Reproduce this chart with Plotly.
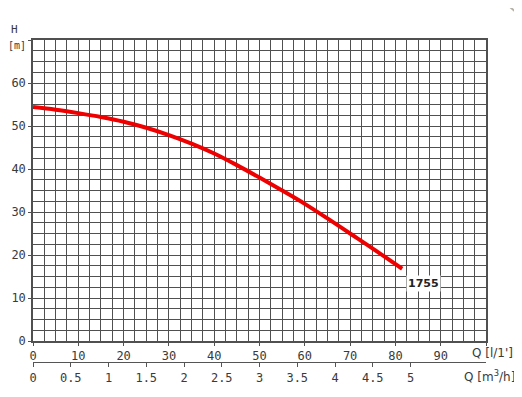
import plotly.graph_objects as go

# Data
flow_lpm = [0, 5, 10, 15, 20, 25, 30, 35, 40, 45, 50, 55, 60, 65, 70, 75, 81.5]
head_m = [54.4, 53.8, 53.0, 52.1, 51.0, 49.6, 47.9, 45.9, 43.6, 40.9, 38.0, 35.0, 31.9, 28.5, 25.0, 21.5, 16.8]
curve_label = "1755"

x_tickvals = [0, 10, 20, 30, 40, 50, 60, 70, 80, 90, 100]
x_ticktext = ["0", "10", "20", "30", "40", "50", "60", "70", "80", "90", ""]
y_tickvals = [0, 10, 20, 30, 40, 50, 60, 70]
y_ticktext = ["0", "10", "20", "30", "40", "50", "60", ""]
m3h_tickvals = [0, 0.5, 1, 1.5, 2, 2.5, 3, 3.5, 4, 4.5, 5]
m3h_ticktext = ["0", "0.5", "1", "1.5", "2", "2.5", "3", "3.5", "4", "4.5", "5"]

GRID = "#505050"
TXT = "#3a3a3a"
FONT = "DejaVu Sans Mono"

fig = go.Figure()
fig.add_trace(go.Scatter(x=flow_lpm, y=head_m, mode="lines",
                         line=dict(color="#ee0000", width=4, shape="spline"),
                         hoverinfo="skip", showlegend=False))
# invisible trace to keep the second axis alive
fig.add_trace(go.Scatter(x=[0, 6], y=[0, 0], xaxis="x2", yaxis="y", mode="lines",
                         line=dict(width=0), opacity=0, hoverinfo="skip", showlegend=False))

fig.add_annotation(x=flow_lpm[-1], y=head_m[-1], text="<b>" + curve_label + "</b>",
                   showarrow=False, xanchor="left", yanchor="top", xshift=4, yshift=-6,
                   font=dict(family="DejaVu Sans", size=11, color="#222"),
                   bgcolor="white", borderpad=1)

fig.add_annotation(xref="paper", yref="paper", x=-0.04, y=1.0, text="H", showarrow=False,
                   xanchor="center", yanchor="bottom", yshift=2,
                   font=dict(family=FONT, size=11, color=TXT))
fig.add_annotation(xref="paper", yref="paper", x=-0.035, y=1.0, text="[m]", showarrow=False,
                   xanchor="center", yanchor="middle", yshift=-5,
                   font=dict(family=FONT, size=10, color=TXT))
fig.add_annotation(xref="paper", yref="paper", x=0.965, y=0.0652, text="Q [l/1']", showarrow=False,
                   xanchor="left", yanchor="top", yshift=-3,
                   font=dict(family="DejaVu Sans", size=12, color=TXT))
fig.add_annotation(xref="paper", yref="paper", x=0.947, y=0.0, text="Q [m<sup>3</sup>/h]", showarrow=False,
                   xanchor="left", yanchor="top", yshift=-4,
                   font=dict(family="DejaVu Sans", size=12, color=TXT))

# small decorative diagonal stroke in the top-right corner
fig.add_shape(type="line", xref="paper", yref="paper", x0=1.035, y0=1.124, x1=1.079, y1=1.071,
              line=dict(color="#b8b0a8", width=2))

# page body adds an 8px margin, so the figure is 8px smaller and shifted
fig.update_layout(
    width=514, height=389,
    margin=dict(l=25, r=36, t=32, b=35, autoexpand=False),
    paper_bgcolor="white", plot_bgcolor="white",
    font=dict(family=FONT, size=11, color=TXT),
    xaxis=dict(range=[0, 100], tickvals=x_tickvals, ticktext=x_ticktext,
               showgrid=True, gridcolor=GRID, gridwidth=1.2,
               minor=dict(dtick=2.5, tick0=0, showgrid=True, gridcolor=GRID, gridwidth=1.2),
               showline=True, linecolor=GRID, linewidth=1.5, mirror=True,
               ticks="outside", ticklen=3, tickcolor=GRID, zeroline=False,
               tickfont=dict(size=12),
               anchor="y", fixedrange=True, automargin=False),
    xaxis2=dict(range=[0, 6], tickvals=m3h_tickvals, ticktext=m3h_ticktext,
                overlaying="x", anchor="free", position=0, side="bottom",
                showgrid=False, showline=True, linecolor="#555", linewidth=1.2,
                ticks="outside", ticklen=4, tickcolor="#555", zeroline=False,
                tickfont=dict(size=12),
                fixedrange=True, automargin=False),
    yaxis=dict(range=[0, 70], tickvals=y_tickvals, ticktext=y_ticktext,
               domain=[0.0652, 1],
               showgrid=True, gridcolor=GRID, gridwidth=1.2,
               minor=dict(dtick=2.5, tick0=0, showgrid=True, gridcolor=GRID, gridwidth=1.2),
               showline=True, linecolor=GRID, linewidth=1.5, mirror=True,
               ticks="outside", ticklen=3, tickcolor=GRID, zeroline=False,
               tickfont=dict(size=12),
               fixedrange=True, automargin=False),
)

fig.write_html("out.html")
